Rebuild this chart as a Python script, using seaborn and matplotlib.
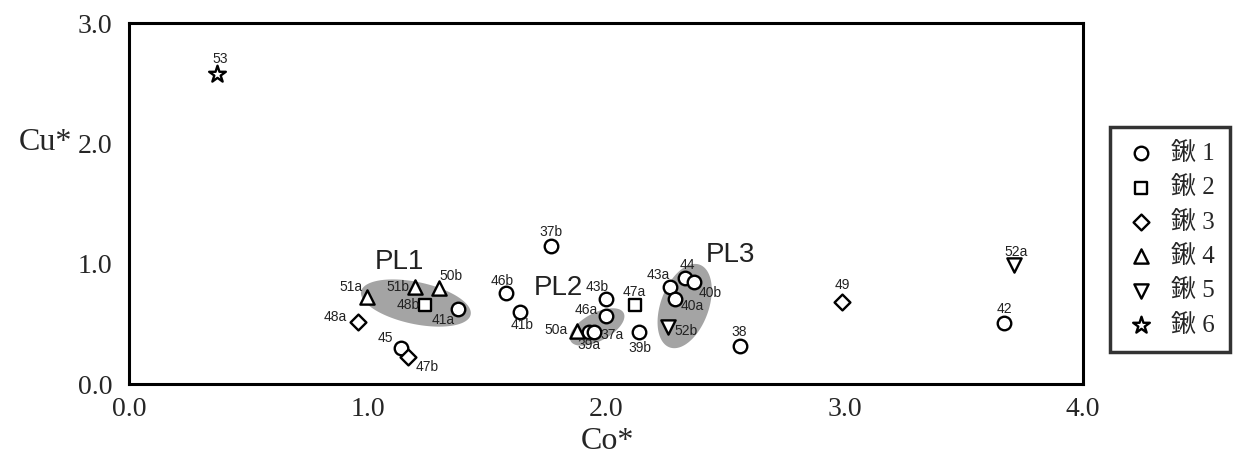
import numpy as np
import pandas as pd
import matplotlib
matplotlib.use("Agg")
import matplotlib.pyplot as plt
import seaborn as sns
from matplotlib.patches import Polygon

# sample id, group, Co*, Cu*
ids = ['53', '51a', '48a', '51b', '50b', '48b', '41a', '45', '47b', '46b', '41b',
       '37b', '43b', '46a', '50a', '39a', '37a', '47a', '39b', '43a', '44', '40b',
       '40a', '52b', '38', '49', '52a', '42']
groups = ['鍬 6', '鍬 4', '鍬 3', '鍬 4', '鍬 4', '鍬 2', '鍬 1', '鍬 1', '鍬 3', '鍬 1', '鍬 1',
          '鍬 1', '鍬 1', '鍬 1', '鍬 4', '鍬 1', '鍬 1', '鍬 2', '鍬 1', '鍬 1', '鍬 1', '鍬 1',
          '鍬 1', '鍬 5', '鍬 1', '鍬 3', '鍬 5', '鍬 1']
co = [0.37, 1.00, 0.96, 1.20, 1.30, 1.24, 1.38, 1.14, 1.17, 1.58, 1.64,
      1.77, 2.00, 2.00, 1.88, 1.93, 1.95, 2.12, 2.14, 2.27, 2.33, 2.37,
      2.29, 2.26, 2.56, 2.99, 3.71, 3.67]
cu = [2.58, 0.72, 0.515, 0.81, 0.80, 0.66, 0.62, 0.30, 0.225, 0.755, 0.60,
      1.15, 0.71, 0.565, 0.44, 0.43, 0.43, 0.66, 0.43, 0.81, 0.88, 0.85,
      0.71, 0.475, 0.315, 0.68, 0.99, 0.505]
# label offsets in pixels
lab_dx = [3, -16, -23, -17, 12, -17, -15, -15, 19, -4, 2,
          0, -9, -20, -21, 0, 18, 0, 1, -12, 3, 16,
          17, 18, 0, 0, 2, 0]
lab_dy = [15, 10, 5, 0, 12, 0, -11, 10, -10, 12, -13,
          14, 12, 6, 1, -13, -3, 13, -16, 12, 13, -11,
          -7, -4, 14, 17, 13, 14]

group_order = ['鍬 1', '鍬 2', '鍬 3', '鍬 4', '鍬 5', '鍬 6']
markers = {'鍬 1': 'o', '鍬 2': 's', '鍬 3': 'D', '鍬 4': '^', '鍬 5': 'v', '鍬 6': '*'}
sizes = {'鍬 1': 95, '鍬 2': 85, '鍬 3': 65, '鍬 4': 105, '鍬 5': 105, '鍬 6': 160}

# shaded clusters: name, centre Co*, centre Cu*, half axes (px), angle, label position
pl_names = ['PL1', 'PL2', 'PL3']
pl_cx = [1.203, 1.963, 2.33]
pl_cy = [0.673, 0.474, 0.648]
pl_a = [56, 30, 44]
pl_b = [21, 14, 24]
pl_ang = [-12, 28, 70]
pl_lx = [1.135, 1.80, 2.52]
pl_ly = [1.01, 0.80, 1.07]

df = pd.DataFrame({'id': ids, 'group': groups, 'Co': co, 'Cu': cu})

sns.set_style('white')
serif = ['Liberation Serif', 'DejaVu Serif']
sans = ['Liberation Sans', 'DejaVu Sans']

fig = plt.figure(figsize=(12.33, 4.61), dpi=100)
ax = fig.add_axes([0.1046, 0.167, 0.7737, 0.783])
ax.set_xlim(0, 4)
ax.set_ylim(0, 3)

# gray ellipses behind the points
px_x = 0.7737 * 1233 / 4
px_y = 0.783 * 461 / 3
t = np.linspace(0, 2 * np.pi, 120)
for i in range(3):
    th = np.radians(pl_ang[i])
    dx = pl_a[i] * np.cos(t) * np.cos(th) - pl_b[i] * np.sin(t) * np.sin(th)
    dy = pl_a[i] * np.cos(t) * np.sin(th) + pl_b[i] * np.sin(t) * np.cos(th)
    pts = np.column_stack([pl_cx[i] + dx / px_x, pl_cy[i] + dy / px_y])
    ax.add_patch(Polygon(pts, closed=True, facecolor='#a4a4a4', edgecolor='none', zorder=1))
    ax.text(pl_lx[i], pl_ly[i], pl_names[i], fontsize=20, family=sans,
            ha='center', va='center', color='#222222', zorder=4)

for g in group_order:
    sub = df[df['group'] == g]
    sns.scatterplot(data=sub, x='Co', y='Cu', marker=markers[g], s=sizes[g],
                    color='white', edgecolor='black', linewidth=1.7, ax=ax,
                    zorder=3, label=g)

for i in range(len(ids)):
    ax.annotate(ids[i], (co[i], cu[i]), xytext=(lab_dx[i], lab_dy[i]),
                textcoords='offset pixels', ha='center', va='center',
                fontsize=10, family=sans, color='#222222', zorder=5)

ax.set_xticks([0, 1, 2, 3, 4])
ax.set_yticks([0, 1, 2, 3])
ax.set_xticklabels(['0.0', '1.0', '2.0', '3.0', '4.0'], family=serif, fontsize=20)
ax.set_yticklabels(['0.0', '1.0', '2.0', '3.0'], family=serif, fontsize=20)
ax.tick_params(axis='x', direction='in', length=8, width=1, pad=9, color='#444444')
ax.tick_params(axis='y', direction='in', length=9, width=1, pad=12, color='#444444')
for sp in ax.spines.values():
    sp.set_linewidth(2.2)
    sp.set_color('black')

ax.set_xlabel('Co*', family=serif, fontsize=23)
ax.xaxis.set_label_coords(0.502, -0.16)
ax.xaxis.label.set_va('center')
ax.set_ylabel('Cu*', family=serif, fontsize=23, rotation=0, va='center', ha='center')
ax.yaxis.set_label_coords(-0.088, 0.668)

leg = ax.legend(loc='upper left', bbox_to_anchor=(1.028, 0.712), borderaxespad=0,
                frameon=True, fancybox=False, edgecolor='black', markerscale=1.0,
                handletextpad=0.55, labelspacing=0.45, borderpad=0.6,
                handlelength=1.3, prop={'family': ['Liberation Serif', 'Noto Sans CJK JP'], 'size': 18})
leg.get_frame().set_linewidth(2.5)

fig.savefig('out.png', dpi=100)
